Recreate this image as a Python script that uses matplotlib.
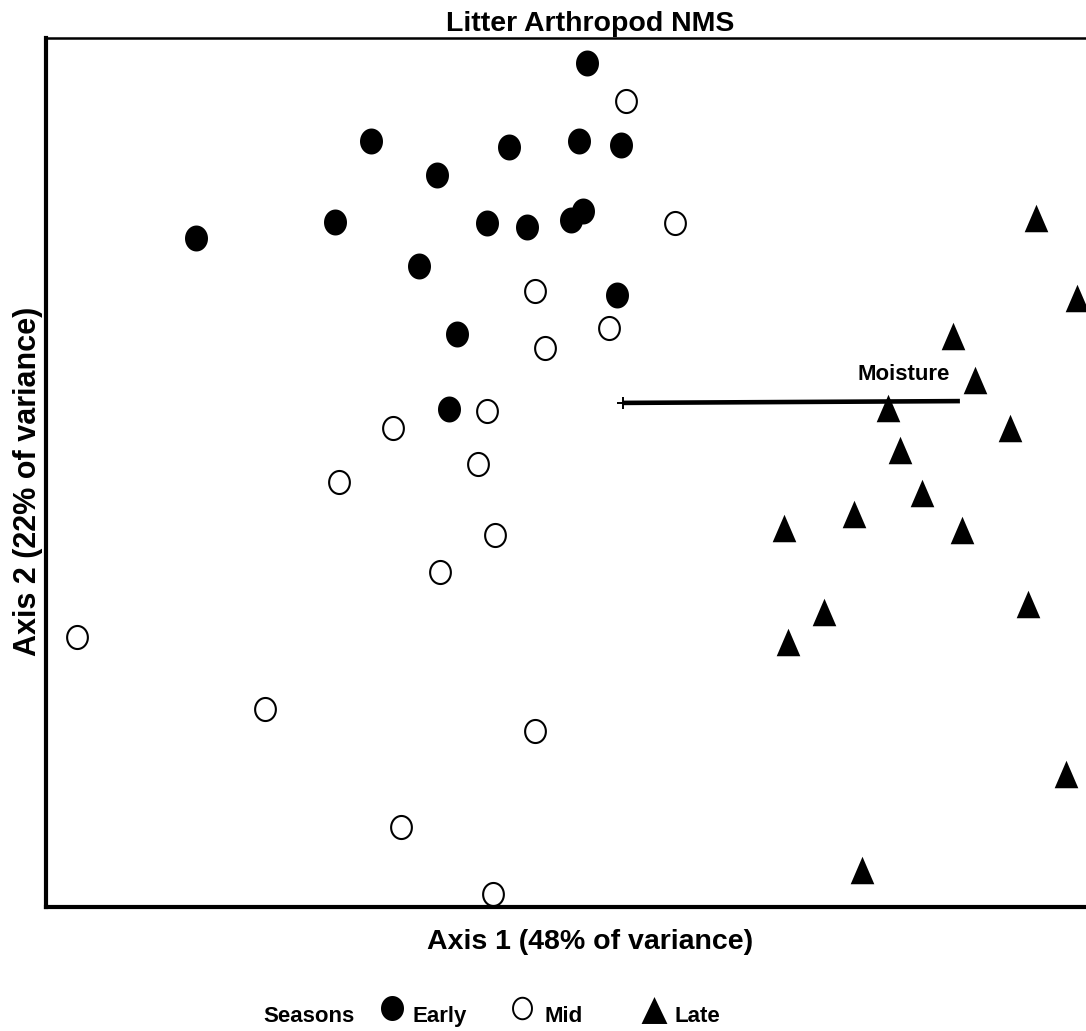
import numpy as np
import matplotlib
matplotlib.use("Agg")
import matplotlib.pyplot as plt
from matplotlib.path import Path
from matplotlib.lines import Line2D

plt.rcParams['font.family'] = ['Liberation Sans', 'DejaVu Sans']
plt.rcParams['font.weight'] = 'bold'

# NMS scores (axis 1, axis 2)
early_x = [-0.010, -0.730, -0.270, -0.037, 0.103, -0.510, -0.850, -1.313,
           -0.343, -0.210, -0.063, -0.023, -0.570, 0.090, -0.443, -0.470]
early_y = [1.365, 1.105, 1.085, 1.105, 1.092, 0.992, 0.835, 0.782,
           0.832, 0.818, 0.842, 0.872, 0.688, 0.592, 0.462, 0.212]

mid_x = [0.120, 0.283, -0.183, 0.063, -0.150, -0.343, -0.657, -0.373,
         -0.837, -0.317, -0.500, -1.710, -1.083, -0.183, -0.630, -0.323]
mid_y = [1.238, 0.832, 0.605, 0.482, 0.415, 0.205, 0.148, 0.028,
         -0.032, -0.208, -0.332, -0.548, -0.788, -0.862, -1.182, -1.405]

late_x = [1.487, 1.623, 1.210, 1.283, 0.993, 1.400, 1.033, 1.107,
          0.880, 0.647, 1.240, 1.460, 0.780, 0.660, 1.587, 0.907]
late_y = [0.848, 0.582, 0.455, 0.308, 0.215, 0.148, 0.075, -0.068,
          -0.138, -0.185, -0.192, -0.438, -0.465, -0.565, -1.005, -1.325]

# joint plot vector for moisture (origin -> tip)
moisture_x = [0.110, 1.233]
moisture_y = [0.232, 0.238]

season_labels = ['Early', 'Mid', 'Late']


def ellipse_marker(ratio):
    t = np.linspace(0, 2 * np.pi, 73)
    verts = np.column_stack([ratio * np.cos(t), np.sin(t)])
    return Path(verts, closed=True)


def triangle_marker(ratio):
    verts = [(0, 1), (-ratio, -1), (ratio, -1), (0, 1)]
    return Path(verts, closed=True)


dot = ellipse_marker(0.885)
ring = ellipse_marker(0.90)
tri = triangle_marker(0.86)

fig = plt.figure(figsize=(10.86, 10.31), dpi=100)
# axes runs past the right edge of the image like in the original export
ax = fig.add_axes([46 / 1086, 124 / 1031, 1088 / 1086, 869 / 1031])

ax.plot(early_x, early_y, linestyle='none', marker=dot, markersize=18.7,
        markerfacecolor='black', markeredgewidth=0, clip_on=False)
ax.plot(mid_x, mid_y, linestyle='none', marker=ring, markersize=16.6,
        markerfacecolor='white', markeredgecolor='black', markeredgewidth=1.5,
        clip_on=False)
ax.plot(late_x, late_y, linestyle='none', marker=tri, markersize=19.8,
        markerfacecolor='black', markeredgewidth=0, clip_on=False)

ax.plot(moisture_x, moisture_y, color='black', linewidth=3.3, solid_capstyle='butt')
ax.plot(moisture_x[0], moisture_y[0], marker='+', markersize=8,
        markeredgewidth=1.4, color='black')
ax.text(1.20, 0.325, 'Moisture', ha='right', va='center', fontsize=16,
        fontweight='bold')

ax.set_xlim(-1.8133, 1.8133)
ax.set_ylim(-1.4483, 1.4483)
ax.set_xticks([])
ax.set_yticks([])
for side in ['left', 'bottom']:
    ax.spines[side].set_linewidth(3)
ax.spines['top'].set_linewidth(1.8)
ax.spines['right'].set_visible(False)

ax.set_title('Litter Arthropod NMS', fontsize=20.5, fontweight='bold', pad=5)
ax.set_xlabel('Axis 1 (48% of variance)', fontsize=20.5, fontweight='bold',
              labelpad=16)
ax.set_ylabel('Axis 2 (22% of variance)', fontsize=22, fontweight='bold')
ax.yaxis.set_label_coords(-3 / 1088, 0.490)

# legend row under the plot
W, H = 1086, 1031
base = (H - 1022) / H
mk_y = (H - 1008) / H
fig.text(263 / W, base, 'Seasons', fontsize=16, fontweight='bold', va='baseline')
fig.add_artist(Line2D([392 / W], [mk_y], transform=fig.transFigure,
                      marker=ellipse_marker(0.92), markersize=18,
                      markerfacecolor='black', markeredgewidth=0, linestyle='none'))
fig.text(413 / W, base, season_labels[0], fontsize=16, fontweight='bold', va='baseline')
fig.add_artist(Line2D([522 / W], [mk_y], transform=fig.transFigure,
                      marker=ellipse_marker(0.88), markersize=15.5,
                      markerfacecolor='white', markeredgecolor='black',
                      markeredgewidth=1.4, linestyle='none'))
fig.text(545 / W, base, season_labels[1], fontsize=16, fontweight='bold', va='baseline')
fig.add_artist(Line2D([654 / W], [(H - 1010) / H], transform=fig.transFigure,
                      marker=triangle_marker(0.96), markersize=19.4,
                      markerfacecolor='black', markeredgewidth=0, linestyle='none'))
fig.text(675 / W, base, season_labels[2], fontsize=16, fontweight='bold', va='baseline')

fig.savefig('out.png', dpi=100)
